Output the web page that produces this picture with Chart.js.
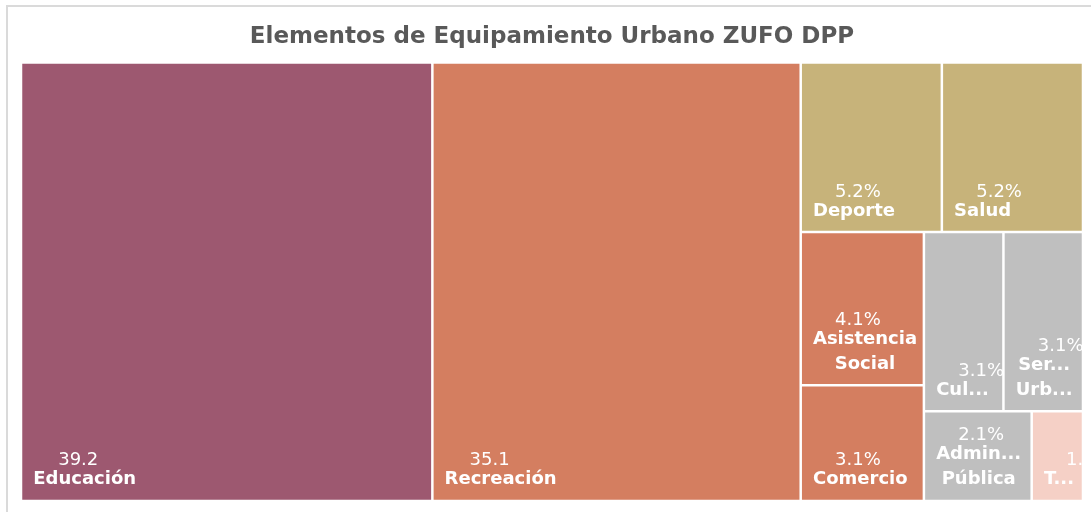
<!DOCTYPE html>
<html>
<head>
<meta charset="utf-8">
<script src="https://cdn.jsdelivr.net/npm/chart.js@4.4.1/dist/chart.umd.min.js"></script>
<style>
  html, body { margin: 0; padding: 0; background: #fff; overflow: hidden; }
  #wrap { position: relative; width: 1091px; height: 512px; overflow: hidden; }
  #frame { position: absolute; left: 6px; top: 5px; width: 1200px; height: 600px; border-left: 2px solid #dadada; border-top: 2px solid #dadada; }
  #treemapChart { position: absolute; left: 0; top: 0; }
</style>
</head>
<body>
<div id="wrap">
  <div id="frame"></div>
  <canvas id="treemapChart" width="1091" height="512"></canvas>
</div>
<script>
var categories = ["Educación", "Recreación", "Deporte", "Salud", "Asistencia Social", "Comercio", "Cultura", "Servicios Urbanos", "Administración Pública", "Transporte"];
var values = [39.2, 35.1, 5.2, 5.2, 4.1, 3.1, 3.1, 3.1, 2.1, 1.0];
var valueLabels = ["39.2", "35.1", "5.2%", "5.2%", "4.1%", "3.1%", "3.1%", "3.1%", "2.1%", "1.0%"];

var colors = ["#9d5870", "#d47e60", "#c7b37a", "#c7b37a", "#d47e60", "#d47e60", "#bfbfbf", "#bfbfbf", "#bfbfbf", "#f5d0c6"];
var FONT = '"DejaVu Sans", sans-serif';
var GAP = 1.25;

// worst aspect ratio of a row laid along a side
function worst(row, side, k) {
  var s = row.reduce(function (a, b) { return a + b; }, 0);
  var thick = s * k / side;
  var r = 0;
  row.forEach(function (v) {
    var len = v * k / thick;
    r = Math.max(r, len / thick, thick / len);
  });
  return r;
}

// squarified layout, same units as w/h
function squarify(vals, w, h, tolerance) {
  var total = vals.reduce(function (a, b) { return a + b; }, 0);
  var k = (w * h) / total;
  var rect = { x: 0, y: 0, w: w, h: h };
  var boxes = [];
  var i = 0;
  while (i < vals.length) {
    var side = Math.min(rect.w, rect.h);
    var row = [vals[i]];
    var best = worst(row, side, k);
    var j = i + 1;
    while (j < vals.length) {
      var next = row.concat(vals[j]);
      var r = worst(next, side, k);
      if (r > best * tolerance) break;
      row = next;
      best = r;
      j++;
    }
    var sum = row.reduce(function (a, b) { return a + b; }, 0);
    var thick = sum * k / side;
    var pos = 0;
    var vertical = rect.w >= rect.h;
    row.forEach(function (v) {
      var len = v * k / thick;
      if (vertical) boxes.push({ x0: rect.x, y0: rect.y + pos, x1: rect.x + thick, y1: rect.y + pos + len });
      else boxes.push({ x0: rect.x + pos, y0: rect.y, x1: rect.x + pos + len, y1: rect.y + thick });
      pos += len;
    });
    if (vertical) rect = { x: rect.x + thick, y: rect.y, w: rect.w - thick, h: rect.h };
    else rect = { x: rect.x, y: rect.y + thick, w: rect.w, h: rect.h - thick };
    i = j;
  }
  return boxes;
}

class TreemapController extends Chart.DatasetController {
  update(mode) {
    var meta = this._cachedMeta;
    this.updateElements(meta.data, 0, meta.data.length, mode);
  }
  updateElements(rects, start, count, mode) {
    var area = this.chart.chartArea;
    if (!area) return;
    var meta = this._cachedMeta;
    var xScale = meta.xScale, yScale = meta.yScale;
    var w = area.right - area.left, h = area.bottom - area.top;
    var boxes = squarify(this.getDataset().data, w, h, 1.35);
    for (var i = start; i < start + count; i++) {
      var b = boxes[i];
      var left = xScale.getPixelForValue(b.x0 / w * 100);
      var right = xScale.getPixelForValue(b.x1 / w * 100);
      var top = yScale.getPixelForValue(b.y0 / h * 100);
      var bottom = yScale.getPixelForValue(b.y1 / h * 100);
      Object.assign(rects[i], {
        x: (left + right) / 2, y: top, base: bottom,
        width: right - left, height: bottom - top,
        horizontal: false, inflateAmount: 0, borderSkipped: {},
        options: this.resolveDataElementOptions(i, mode)
      });
    }
  }
}
TreemapController.id = "treemap";
TreemapController.defaults = { datasetElementType: false, dataElementType: "bar", parsing: false };
Chart.register(TreemapController);

function fitLines(ctx, text, cellW) {
  if (ctx.measureText(text).width <= cellW - 10) return [text];
  return text.split(" ").map(function (word) {
    if (ctx.measureText(word).width <= cellW - 10) return word;
    var s = word;
    while (s.length > 1 && ctx.measureText(s + "...").width > cellW - 18) s = s.slice(0, -1);
    return s + "...";
  });
}

var labelPlugin = {
  id: "cellLabels",
  afterDatasetsDraw: function (chart) {
    var ctx = chart.ctx;
    chart.getDatasetMeta(0).data.forEach(function (el, i) {
      var p = el.getProps(["x", "y", "base", "width"]);
      var left = p.x - p.width / 2 + GAP;
      var bottom = Math.max(p.y, p.base) - GAP;
      var cellW = p.width - 2 * GAP;
      ctx.save();
      ctx.fillStyle = "#ffffff";
      ctx.textAlign = "center";
      ctx.textBaseline = "middle";
      ctx.font = "bold 18px " + FONT;
      var lines = fitLines(ctx, categories[i], cellW);
      var blockW = Math.max.apply(null, lines.map(function (l) { return ctx.measureText(l).width; }));
      var cx = left + 11 + blockW / 2;
      lines.forEach(function (line, n) {
        ctx.fillText(line, cx, bottom - 20 - (lines.length - 1 - n) * 25);
      });
      var firstY = bottom - 20 - (lines.length - 1) * 25;
      ctx.font = "18px " + FONT;
      ctx.fillText(valueLabels[i], left + 56, firstY - 19);
      ctx.restore();
    });
  }
};

var ctx = document.getElementById("treemapChart").getContext("2d");
var chart = new Chart(ctx, {
  type: "treemap",
  data: {
    labels: categories,
    datasets: [
      {
        label: "Elementos",
        data: values,
        backgroundColor: colors,
        borderColor: "#ffffff",
        borderWidth: GAP,
      },
    ],
  },
  options: {
    responsive: false,
    animation: false,
    events: [],
    layout: { padding: { left: 21, right: 8, top: 0, bottom: 11 } },
    scales: {
      x: { type: "linear", min: 0, max: 100, display: false },
      y: { type: "linear", min: 0, max: 100, reverse: true, display: false },
    },
    plugins: {
      legend: { display: false },
      tooltip: { enabled: false },
      title: {
        display: true,
        text: "Elementos de Equipamiento Urbano ZUFO DPP",
        color: "#595959",
        font: { family: FONT, size: 23, weight: "bold" },
        padding: { top: 23, bottom: 12 },
      },
    },
  },
  plugins: [labelPlugin],
});
</script>
</body>
</html>
